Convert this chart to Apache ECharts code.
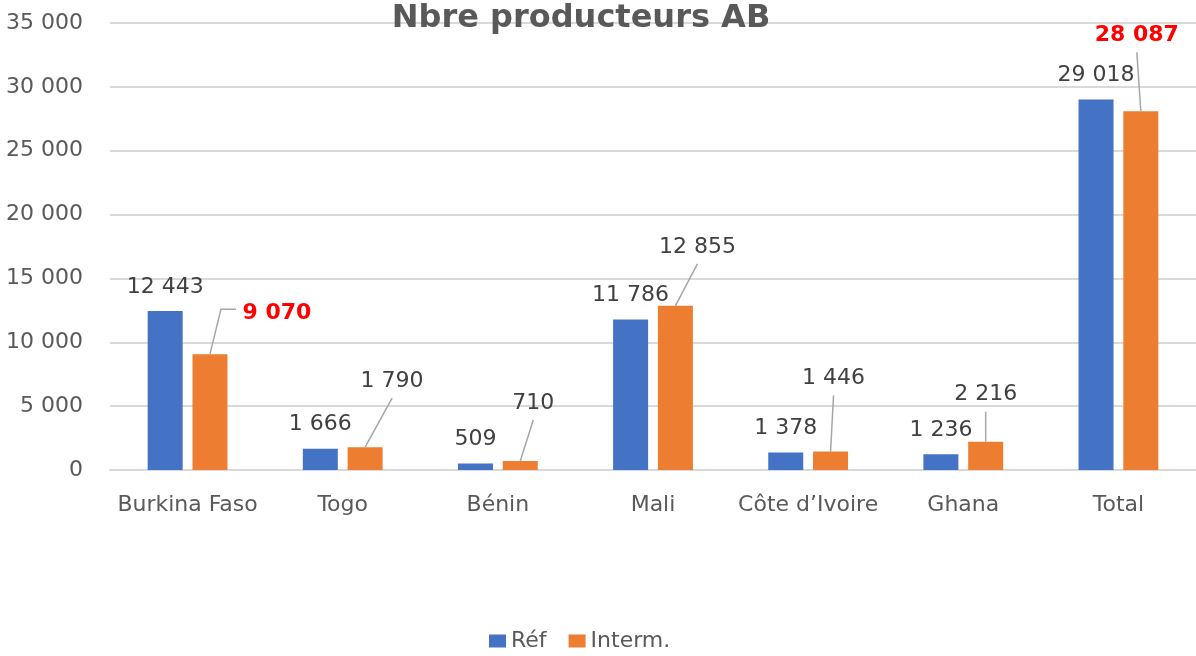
<!DOCTYPE html>
<html>
<head>
<meta charset="utf-8">
<script src="https://cdn.jsdelivr.net/npm/echarts@6/dist/echarts.min.js"></script>
<style>
  html, body { margin: 0; padding: 0; background: #ffffff; }
  #chart { width: 1196px; height: 656px; }
</style>
</head>
<body>
<div id="chart"></div>
<script>
// Number of organic (AB) producers per country
const categories = ['Burkina Faso', 'Togo', 'Bénin', 'Mali', 'Côte d\u2019Ivoire', 'Ghana', 'Total'];
const refValues = [12443, 1666, 509, 11786, 1378, 1236, 29018];
const intermValues = [9070, 1790, 710, 12855, 1446, 2216, 28087];
const highlightedInterm = [0, 6];
const yTicks = [0, 5000, 10000, 15000, 20000, 25000, 30000, 35000];

// Label displacement (px) for the "Interm." labels, which get a leader line;
// a "side" leader ends beside its label instead of under it
const intermLabelShift = [
  { dx: 67, dy: -17, side: true },
  { dx: 27, dy: -42 },
  { dx: 13, dy: -34 },
  { dx: 22, dy: -35 },
  { dx: 3, dy: -49 },
  { dx: 0, dy: -23 },
  { dx: -4, dy: -52 }
];

const FONT = '"DejaVu Sans", "Open Sans", sans-serif';
const GREY_TEXT = '#595959';
const BAR_WIDTH = 35;
const BAR_GAP = 0.28;
const LABEL_DISTANCE = 13;
const LABEL_HALF_HEIGHT = 13;

function fmt(v) {
  return String(Math.round(v)).replace(/\B(?=(\d{3})+(?!\d))/g, ' ');
}

const chart = echarts.init(document.getElementById('chart'), null, { renderer: 'canvas' });

// Leader lines from the top middle of each "Interm." bar to its displaced label
function renderLeader(params, api) {
  const i = api.value(0);
  const s = intermLabelShift[i];
  const top = api.coord([i, api.value(1)]);
  const barX = top[0] + (BAR_WIDTH * (1 + BAR_GAP)) / 2;
  const barY = top[1];
  const cx = barX + s.dx;
  const cy = barY - LABEL_DISTANCE - LABEL_HALF_HEIGHT + s.dy;
  const points = s.side
    ? [[barX, barY], [cx - 56, cy - 2], [cx - 41, cy - 2]]
    : [[barX, barY], [cx, cy + 19]];
  return {
    type: 'polyline',
    shape: { points },
    style: { stroke: '#a6a6a6', lineWidth: 1.5, fill: null }
  };
}

chart.setOption({
  animation: false,
  backgroundColor: '#ffffff',
  title: {
    text: 'Nbre producteurs AB',
    left: 576,
    top: -2,
    textAlign: 'center',
    textStyle: { fontFamily: FONT, fontSize: 32, fontWeight: 'bold', color: GREY_TEXT }
  },
  legend: {
    top: 625,
    left: 484,
    itemWidth: 17,
    itemHeight: 13,
    itemGap: 22,
    itemStyle: { borderWidth: 0 },
    icon: 'rect',
    textStyle: { fontFamily: FONT, fontSize: 22, color: GREY_TEXT },
    data: ['Réf', 'Interm.']
  },
  grid: { left: 110, right: 0, top: 23, bottom: 186, outerBoundsMode: 'none' },
  xAxis: {
    type: 'category',
    data: categories,
    axisLine: { show: true, lineStyle: { color: '#d9d9d9', width: 2 } },
    axisTick: { show: false },
    axisLabel: { interval: 0, fontFamily: FONT, fontSize: 22, color: GREY_TEXT, margin: 24 }
  },
  yAxis: {
    type: 'value',
    min: yTicks[0],
    max: yTicks[yTicks.length - 1],
    interval: yTicks[1] - yTicks[0],
    axisLine: { show: false },
    axisTick: { show: false },
    splitLine: { lineStyle: { color: '#d9d9d9', width: 2 } },
    axisLabel: { fontFamily: FONT, fontSize: 22, color: GREY_TEXT, margin: 27, formatter: fmt }
  },
  series: [
    {
      name: 'Réf',
      type: 'bar',
      data: refValues,
      barWidth: BAR_WIDTH,
      barGap: BAR_GAP * 100 + '%',
      itemStyle: { color: '#4472C4' },
      label: {
        show: true,
        position: 'top',
        distance: LABEL_DISTANCE,
        fontFamily: FONT,
        fontSize: 22,
        color: '#404040',
        formatter: p => fmt(p.value)
      }
    },
    {
      name: 'Interm.',
      type: 'bar',
      data: intermValues.map((v, i) => highlightedInterm.includes(i)
        ? { value: v, label: { color: '#ff0000', fontWeight: 'bold' } }
        : v),
      barWidth: BAR_WIDTH,
      barGap: BAR_GAP * 100 + '%',
      itemStyle: { color: '#ED7D31' },
      label: {
        show: true,
        position: 'top',
        distance: LABEL_DISTANCE,
        fontFamily: FONT,
        fontSize: 22,
        color: '#404040',
        formatter: p => fmt(p.value)
      },
      labelLayout: p => {
        const s = intermLabelShift[p.dataIndex];
        return { dx: s.dx, dy: s.dy };
      }
    },
    {
      name: 'leaders',
      type: 'custom',
      silent: true,
      z: 3,
      data: intermValues.map((v, i) => [i, v]),
      encode: { x: 0, y: 1 },
      renderItem: renderLeader
    }
  ]
});
</script>
</body>
</html>
